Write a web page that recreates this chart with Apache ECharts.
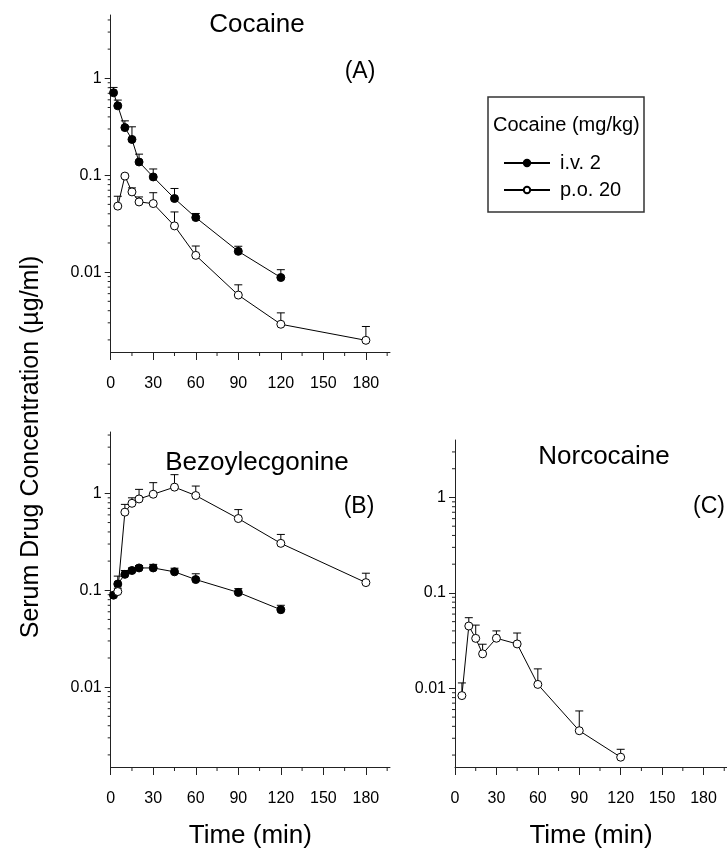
<!DOCTYPE html>
<html>
<head>
<meta charset="utf-8">
<script src="https://cdn.jsdelivr.net/npm/echarts@6/dist/echarts.min.js"></script>
<style>
  html, body { margin: 0; padding: 0; background: #fff; }
  #main { width: 727px; height: 850px; }
</style>
</head>
<body>
<div id="main"></div>
<script>
// sampling times (min)
const timeIv = [2, 5, 10, 15, 20, 30, 45, 60, 90, 120];
const timePo = [5, 10, 15, 20, 30, 45, 60, 90, 120, 180];
const timeNor = [5, 10, 15, 20, 30, 45, 60, 90, 120];

// (A) cocaine, mean and top of the error bar (ug/ml)
const cocIv = [0.71, 0.52, 0.31, 0.234, 0.137, 0.096, 0.0575, 0.0366, 0.0164, 0.0088];
const cocIvTop = [0.805, 0.596, 0.364, 0.316, 0.165, 0.116, 0.073, 0.0403, 0.0185, 0.0106];
const cocPo = [0.048, 0.098, 0.0673, 0.053, 0.051, 0.030, 0.0149, 0.0058, 0.0029, 0.00198];
const cocPoTop = [0.0607, 0.102, 0.074, 0.0597, 0.066, 0.0418, 0.0186, 0.0074, 0.0038, 0.00275];

// (B) benzoylecgonine
const bzeIv = [0.089, 0.116, 0.146, 0.16, 0.17, 0.17, 0.155, 0.129, 0.095, 0.063];
const bzeIvTop = [0.095, 0.14, 0.16, 0.17, 0.18, 0.185, 0.169, 0.148, 0.104, 0.070];
const bzePo = [0.097, 0.64, 0.79, 0.876, 0.98, 1.16, 0.95, 0.55, 0.305, 0.12];
const bzePoTop = [0.105, 0.77, 0.90, 1.10, 1.29, 1.56, 1.19, 0.68, 0.377, 0.15];

// (C) norcocaine, p.o. only
const norPo = [0.0084, 0.045, 0.0334, 0.023, 0.0335, 0.0292, 0.011, 0.0036, 0.0019];
const norPoTop = [0.0114, 0.055, 0.046, 0.029, 0.040, 0.038, 0.016, 0.0058, 0.0023];

// axis ticks
const xLabels = [0, 30, 60, 90, 120, 150, 180];
const xMinor = [15, 45, 75, 105, 135, 165, 195];
const yLabels = [0.01, 0.1, 1];
const yMinor = [0.002, 0.003, 0.004, 0.005, 0.006, 0.007, 0.008, 0.009,
                0.02, 0.03, 0.04, 0.05, 0.06, 0.07, 0.08, 0.09,
                0.2, 0.3, 0.4, 0.5, 0.6, 0.7, 0.8, 0.9, 2, 3, 4];

const yRange = [[0.0015, 4.5], [0.0015, 4.3], [0.0015, 4.0]];

const FONT = '"Liberation Sans", Arial, Helvetica, sans-serif';

function zip(xs, ys, tops) {
    return xs.map((x, i) => tops ? [x, ys[i], tops[i]] : [x, ys[i]]);
}

function xAxis(gi, name) {
    return {
        type: 'value', gridIndex: gi, min: 0, max: 197, position: 'bottom',
        splitLine: { show: false },
        axisLine: { show: true, onZero: false, lineStyle: { color: '#222', width: 1 } },
        axisTick: { show: true, customValues: xLabels, length: 8, lineStyle: { color: '#222' } },
        axisLabel: { customValues: xLabels, margin: 24, fontSize: 16, color: '#000', fontFamily: FONT },
        name: name || '', nameLocation: 'middle', nameGap: 56,
        nameTextStyle: { fontSize: 26, color: '#000', fontFamily: FONT }
    };
}

function yAxis(gi) {
    return {
        type: 'log', logBase: 10, gridIndex: gi, min: yRange[gi][0], max: yRange[gi][1], position: 'left',
        splitLine: { show: false },
        axisLine: { show: true, onZero: false, lineStyle: { color: '#222', width: 1 } },
        axisTick: { show: true, customValues: yLabels, length: 6, lineStyle: { color: '#222' } },
        axisLabel: {
            customValues: yLabels, margin: 9, fontSize: 16, color: '#000', fontFamily: FONT,
            formatter: v => v >= 1 ? String(Math.round(v)) : String(+(+v).toPrecision(1))
        }
    };
}

// short ticks between the labelled ones, placed through the axis scales
function minorTicks(gi) {
    const lo = yRange[gi][0], hi = yRange[gi][1];
    const data = yMinor.filter(v => v > lo && v < hi).map(v => [0, v, 0])
        .concat(xMinor.map(t => [t, lo, 1]));
    return {
        type: 'custom', xAxisIndex: gi, yAxisIndex: gi, z: 1, clip: false, silent: true,
        encode: { x: 0, y: 1 },
        data: data,
        renderItem: function (params, api) {
            const p = api.coord([api.value(0), api.value(1)]);
            const onX = api.value(2) === 1;
            return {
                type: 'line',
                shape: onX ? { x1: p[0], y1: p[1], x2: p[0], y2: p[1] + 4 }
                           : { x1: p[0] - 3, y1: p[1], x2: p[0], y2: p[1] },
                style: { stroke: '#222', lineWidth: 1 }
            };
        }
    };
}

function errBars(gi, data) {
    return {
        type: 'custom', xAxisIndex: gi, yAxisIndex: gi, z: 1, clip: false, silent: true,
        encode: { x: 0, y: [1, 2] },
        data: data,
        renderItem: function (params, api) {
            const p1 = api.coord([api.value(0), api.value(1)]);
            const p2 = api.coord([api.value(0), api.value(2)]);
            const hw = 4;
            return {
                type: 'group',
                children: [
                    { type: 'line', shape: { x1: p1[0], y1: p1[1], x2: p2[0], y2: p2[1] },
                      style: { stroke: '#000', lineWidth: 1 } },
                    { type: 'line', shape: { x1: p2[0] - hw, y1: p2[1], x2: p2[0] + hw, y2: p2[1] },
                      style: { stroke: '#000', lineWidth: 1 } }
                ]
            };
        }
    };
}

function lineSeries(gi, name, data, filled) {
    return {
        name: name, type: 'line', xAxisIndex: gi, yAxisIndex: gi, z: 3,
        data: data,
        symbol: 'circle', symbolSize: 8,
        showAllSymbol: true,
        lineStyle: { color: '#000', width: 1 },
        itemStyle: filled
            ? { color: '#000', borderColor: '#000', borderWidth: 1 }
            : { color: '#fff', borderColor: '#000', borderWidth: 1 },
        emphasis: { disabled: true },
        animation: false
    };
}

function txt(text, x, y, size, extra) {
    return Object.assign({
        type: 'text', x: x, y: y, silent: true,
        style: { text: text, font: size + 'px ' + FONT, fill: '#000', align: 'center', verticalAlign: 'middle' }
    }, extra || {});
}

const chart = echarts.init(document.getElementById('main'), null, { renderer: 'canvas' });
chart.setOption({
    backgroundColor: '#fff',
    animation: false,
    grid: [
        { left: 110.7, top: 15, width: 279.3, height: 337 },
        { left: 110.7, top: 432, width: 279.3, height: 338 },
        { left: 455, top: 440, width: 278.4, height: 330 }
    ],
    xAxis: [xAxis(0), xAxis(1, 'Time (min)'), xAxis(2, 'Time (min)')],
    yAxis: [yAxis(0), yAxis(1), yAxis(2)],
    legend: {
        data: ['i.v. 2', 'p.o. 20'],
        orient: 'vertical',
        left: 503, top: 153,
        padding: 0,
        itemWidth: 46, itemHeight: 8, itemGap: 7,
        selectedMode: false,
        textStyle: { fontSize: 20, lineHeight: 20, color: '#000', fontFamily: FONT, padding: [0, 0, 0, 5] }
    },
    graphic: [
        { type: 'rect', silent: true, shape: { x: 488, y: 97, width: 156, height: 115 },
          style: { fill: 'none', stroke: '#333', lineWidth: 1.5 } },
        { type: 'text', x: 493, y: 125, silent: true,
          style: { text: 'Cocaine (mg/kg)', font: '20px ' + FONT, fill: '#000', align: 'left', verticalAlign: 'middle' } },
        txt('Cocaine', 257, 25, 26),
        txt('(A)', 360, 72, 23),
        txt('Bezoylecgonine', 257, 463, 26),
        txt('(B)', 359, 507, 23),
        txt('Norcocaine', 604, 457, 26),
        txt('(C)', 709, 507, 23),
        txt('Serum Drug Concentration (\u00b5g/ml)', 31, 447, 25, { rotation: Math.PI / 2 })
    ],
    series: [
        minorTicks(0), minorTicks(1), minorTicks(2),
        errBars(0, zip(timeIv, cocIv, cocIvTop)),
        errBars(0, zip(timePo, cocPo, cocPoTop)),
        lineSeries(0, 'i.v. 2', zip(timeIv, cocIv), true),
        lineSeries(0, 'p.o. 20', zip(timePo, cocPo), false),
        errBars(1, zip(timeIv, bzeIv, bzeIvTop)),
        errBars(1, zip(timePo, bzePo, bzePoTop)),
        lineSeries(1, 'i.v. 2', zip(timeIv, bzeIv), true),
        lineSeries(1, 'p.o. 20', zip(timePo, bzePo), false),
        errBars(2, zip(timeNor, norPo, norPoTop)),
        lineSeries(2, 'p.o. 20', zip(timeNor, norPo), false)
    ]
});
</script>
</body>
</html>
